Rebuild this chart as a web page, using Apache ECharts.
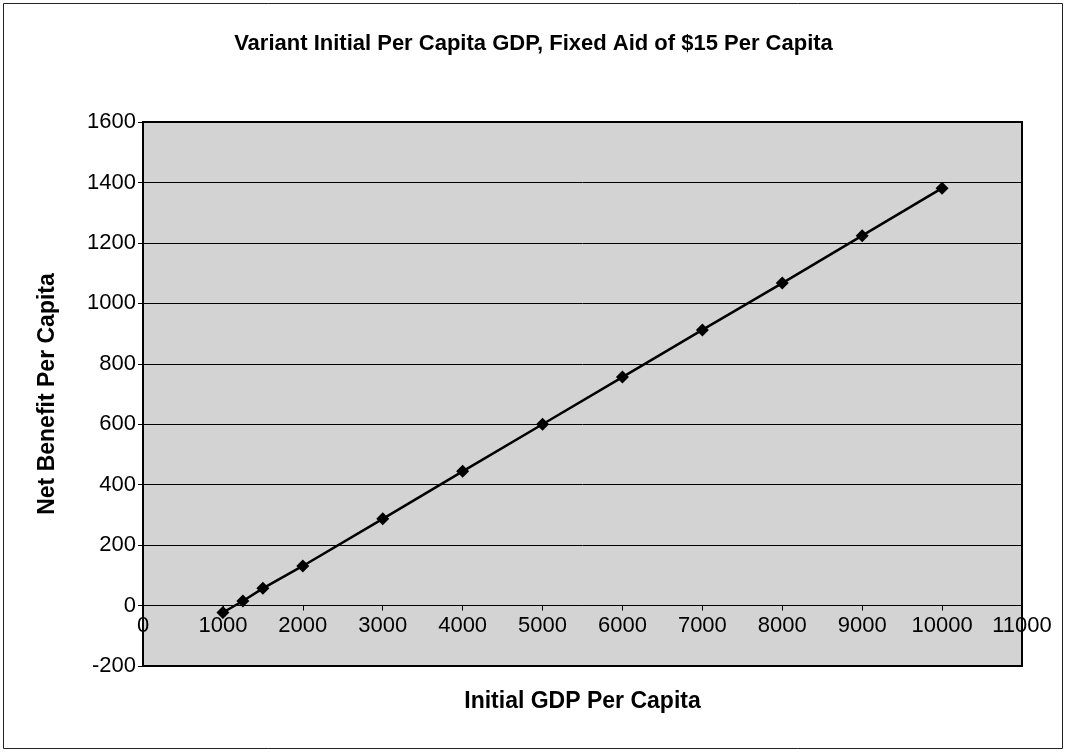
<!DOCTYPE html>
<html>
<head>
<meta charset="utf-8">
<script src="https://cdn.jsdelivr.net/npm/echarts@6/dist/echarts.min.js"></script>
<style>
html,body{margin:0;padding:0;background:#fff;}
#chart{width:1067px;height:754px;}
</style>
</head>
<body>
<div id="chart"></div>
<script>
const titleText = 'Variant Initial Per Capita GDP, Fixed Aid of $15 Per Capita';
const xAxisName = 'Initial GDP Per Capita';
const yAxisName = 'Net Benefit Per Capita';
const initialGdp = [1000, 1250, 1500, 2000, 3000, 4000, 5000, 6000, 7000, 8000, 9000, 10000];
const netBenefit = [-23, 15, 57, 131, 287, 444, 600, 756, 912, 1067, 1224, 1381];
const yMin = -200, yMax = 1600;

const font = '"Liberation Sans", Arial, sans-serif';
const gridTop = 122, gridBottom = 88, chartH = 754;
const plotH = chartH - gridTop - gridBottom;
const zeroOffset = -plotH * (0 - yMin) / (yMax - yMin);

const chart = echarts.init(document.getElementById('chart'));
chart.setOption({
  backgroundColor: '#fff',
  animation: false,
  title: {
    text: titleText, left: 'center', top: 28,
    textStyle: {fontFamily: font, fontSize: 22, fontWeight: 'bold', color: '#000'}
  },
  graphic: [{
    type: 'rect', shape: {x: 3.5, y: 3.5, width: 1059, height: 745},
    style: {fill: null, stroke: '#222', lineWidth: 1}, silent: true, z: -10
  }],
  grid: {
    left: 143, right: 45, top: gridTop, bottom: gridBottom,
    outerBoundsMode: 'none', containLabel: false,
    show: true, backgroundColor: '#d3d3d3', borderColor: '#000', borderWidth: 2
  },
  xAxis: {
    type: 'value', min: 0, max: 11000, interval: 1000,
    offset: zeroOffset,
    name: xAxisName, nameLocation: 'middle', nameGap: 85,
    nameTextStyle: {fontFamily: font, fontSize: 23, fontWeight: 'bold', color: '#000'},
    axisLine: {show: true, onZero: false, lineStyle: {color: '#000', width: 1}},
    axisTick: {show: true, inside: false, length: 5, lineStyle: {color: '#000'}},
    axisLabel: {fontFamily: font, fontSize: 22, color: '#000', margin: 9,
      showMinLabel: true, showMaxLabel: true, formatter: v => String(v)},
    splitLine: {show: false}
  },
  yAxis: {
    type: 'value', min: yMin, max: yMax, interval: 200,
    name: yAxisName, nameLocation: 'middle', nameGap: 84,
    nameTextStyle: {fontFamily: font, fontSize: 23, fontWeight: 'bold', color: '#000'},
    axisLine: {show: true, onZero: false, lineStyle: {color: '#000', width: 2}},
    axisTick: {show: true, inside: false, length: 5, lineStyle: {color: '#000'}},
    axisLabel: {fontFamily: font, fontSize: 22, color: '#000', margin: 7, formatter: v => String(v)},
    splitLine: {show: true, lineStyle: {color: '#000', width: 1}}
  },
  series: [{
    type: 'line',
    data: initialGdp.map((x, i) => [x, netBenefit[i]]),
    symbol: 'diamond', symbolSize: 13,
    itemStyle: {color: '#000'},
    lineStyle: {color: '#000', width: 2.5}
  }]
});
</script>
</body>
</html>
